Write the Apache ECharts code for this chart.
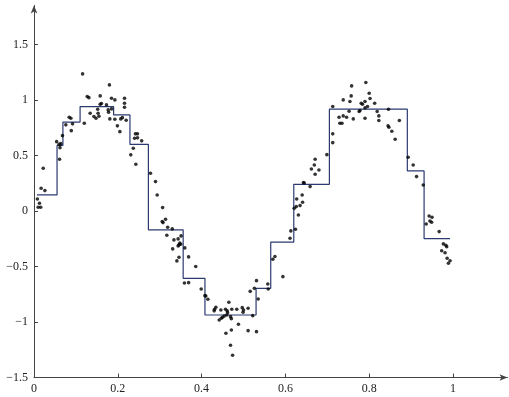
<!DOCTYPE html>
<html><head><meta charset="utf-8">
<script src="https://cdn.jsdelivr.net/npm/echarts@6/dist/echarts.min.js"></script>
<style>html,body{margin:0;padding:0;background:#fff}#c{width:509px;height:397px}</style>
</head><body><div id="c"></div>
<script>
const xTicks = [0, 0.2, 0.4, 0.6, 0.8, 1];
const yTicks = [-1.5, -1, -0.5, 0, 0.5, 1, 1.5];

const stepX = [0.007, 0.055, 0.069, 0.11, 0.19, 0.229, 0.273, 0.356, 0.408, 0.53, 0.565, 0.62, 0.705, 0.891, 0.931, 0.993];
const stepY = [0.144, 0.59, 0.80, 0.94, 0.865, 0.60, -0.17, -0.607, -0.937, -0.697, -0.28, 0.24, 0.916, 0.36, -0.25, -0.25];

const pointsX = [0.008,0.013,0.010,0.016,0.017,0.026,0.022,0.054,0.060,0.064,0.062,0.061,0.068,0.076,0.084,0.088,0.092,0.089,0.116,0.120,
0.127,0.131,0.134,0.143,0.148,0.152,0.153,0.155,0.158,0.158,0.161,0.173,0.177,0.178,0.180,0.181,0.185,0.185,0.193,0.193,
0.199,0.205,0.207,0.211,0.216,0.216,0.216,0.220,0.231,0.237,0.240,0.242,0.243,0.247,0.247,0.257,0.278,0.290,0.294,0.307,
0.314,0.306,0.308,0.319,0.330,0.317,0.334,0.344,0.351,0.348,0.346,0.344,0.350,0.331,0.360,0.346,0.341,0.369,0.386,0.359,
0.369,0.399,0.408,0.410,0.415,0.434,0.431,0.430,0.446,0.457,0.461,0.465,0.472,0.484,0.497,0.500,0.499,0.511,0.522,0.454,
0.450,0.447,0.442,0.460,0.462,0.469,0.471,0.488,0.471,0.458,0.511,0.531,0.469,0.474,0.535,0.516,0.526,0.531,0.558,0.559,
0.594,0.570,0.575,0.613,0.611,0.624,0.631,0.635,0.621,0.626,0.627,0.641,0.640,0.643,0.659,0.645,0.662,0.671,0.680,0.669,
0.671,0.699,0.713,0.713,0.713,0.728,0.730,0.735,0.738,0.738,0.746,0.752,0.754,0.757,0.758,0.762,0.776,0.778,0.781,0.784,
0.790,0.790,0.790,0.792,0.800,0.802,0.796,0.813,0.819,0.823,0.823,0.846,0.845,0.847,0.854,0.862,0.872,0.893,0.905,0.913,
0.929,0.943,0.950,0.945,0.949,0.936,0.967,0.977,0.985,0.983,0.973,0.981,0.986,0.993,0.989];
const pointsY = [0.108,0.069,0.033,0.033,0.204,0.183,0.385,0.624,0.600,0.606,0.570,0.466,0.678,0.775,0.844,0.835,0.784,0.723,1.234,0.790,
1.030,1.020,0.880,0.850,0.835,0.916,0.880,0.853,1.036,0.960,0.967,0.955,0.910,0.889,1.135,0.829,1.015,0.919,1.000,0.826,
0.766,0.714,0.829,0.840,1.015,0.970,0.934,0.817,0.505,0.565,0.655,0.694,0.420,0.658,0.694,0.631,0.340,0.264,0.144,0.030,
-0.075,-0.096,-0.105,-0.147,-0.162,-0.219,-0.261,-0.252,-0.225,-0.290,-0.306,-0.315,-0.300,-0.342,-0.333,-0.417,-0.450,-0.414,-0.500,-0.649,
-0.646,-0.703,-0.763,-0.766,-0.795,-0.868,-0.886,-0.900,-0.892,-0.886,-0.900,-0.823,-0.886,-0.886,-0.871,-0.892,-0.913,-0.877,-0.943,-0.946,
-0.958,-0.967,-0.982,-0.937,-0.916,-0.952,-0.970,-1.021,-1.072,-1.102,-1.078,-1.087,-1.210,-1.300,-0.793,-0.724,-0.697,-0.628,-0.658,-0.703,
-0.592,-0.435,-0.410,-0.180,-0.246,-0.165,-0.036,0.048,0.024,0.039,0.108,0.078,0.144,0.255,0.219,0.252,0.378,0.330,0.369,0.414,
0.466,0.507,0.694,0.615,0.940,0.844,0.790,0.790,1.000,0.856,0.844,0.898,0.985,1.036,1.126,0.829,0.895,0.904,0.970,0.961,
0.985,0.928,0.835,1.156,1.060,1.012,0.940,0.970,0.895,0.856,0.814,0.916,0.766,0.754,0.718,0.646,0.814,0.484,0.414,0.309,
0.234,-0.045,-0.057,-0.090,-0.102,-0.117,-0.186,-0.297,-0.322,-0.309,-0.358,-0.376,-0.426,-0.448,-0.471];

const fmt = v => String(Math.round(v * 10) / 10).replace('-', '\u2212');
const labelFont = { fontFamily: "'Liberation Serif', 'Times New Roman', Times, serif", fontSize: 12, color: '#222' };
const axisLineStyle = { color: '#444', width: 1 };

const chart = echarts.init(document.getElementById('c'), null, { renderer: 'canvas' });
chart.setOption({
  animation: false,
  backgroundColor: '#fff',
  grid: { left: 34, right: 509 - 34 - 1.13 * 419, top: 5.5, bottom: 19.5, containLabel: false },
  xAxis: {
    type: 'value', min: 0, max: 1.13,
    splitLine: { show: false },
    axisLine: { onZero: false, lineStyle: axisLineStyle, symbol: ['none', 'arrow'], symbolSize: [5, 8] },
    axisTick: { inside: true, length: 4, lineStyle: axisLineStyle, customValues: xTicks },
    axisLabel: Object.assign({ margin: 5, formatter: fmt, customValues: xTicks }, labelFont)
  },
  yAxis: {
    type: 'value', min: -1.5, max: 1.85,
    splitLine: { show: false },
    axisLine: { onZero: false, lineStyle: axisLineStyle, symbol: ['none', 'arrow'], symbolSize: [5, 8] },
    axisTick: { inside: true, length: 4, lineStyle: axisLineStyle, customValues: yTicks },
    axisLabel: Object.assign({ margin: 6, formatter: fmt, customValues: yTicks }, labelFont)
  },
  series: [
    {
      type: 'line', step: 'end', showSymbol: false,
      data: stepX.map((x, i) => [x, stepY[i]]),
      lineStyle: { color: '#2c3a72', width: 1.2 },
      z: 2
    },
    {
      type: 'scatter', symbol: 'circle', symbolSize: 3.6,
      data: pointsX.map((x, i) => [x, pointsY[i]]),
      itemStyle: { color: '#000' },
      z: 3
    }
  ]
});
</script></body></html>
